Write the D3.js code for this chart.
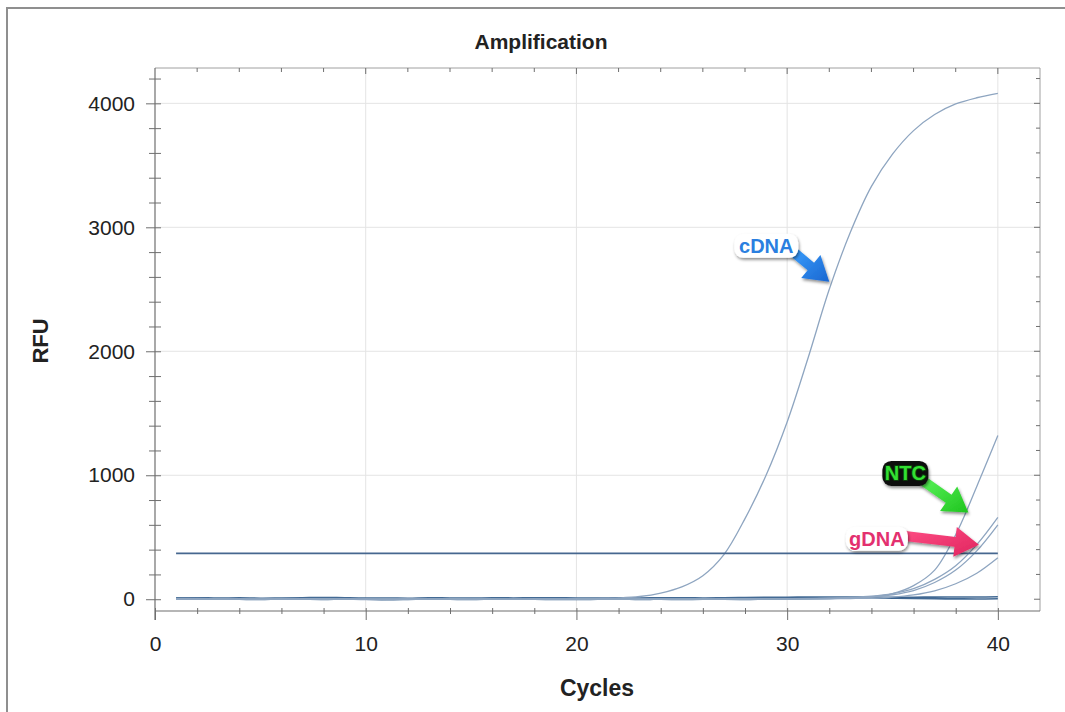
<!DOCTYPE html>
<html><head><meta charset="utf-8">
<script src="https://cdn.jsdelivr.net/npm/d3@7"></script>
<style>
html,body{margin:0;padding:0;background:#fff;}
svg{display:block;font-family:"Liberation Sans",Arial,Helvetica,sans-serif;}
</style></head>
<body>
<svg id="chart" width="1065" height="712"></svg>
<script>
// ---- data ----
const cycles = d3.range(1, 41);
const cDNA = [4,6,3,1,-2,2,5,3,1,-3,-2,0,2,3,1,0,-2,-1,0,2,5,10,22,50,100,190,360,650,1000,1430,1950,2500,2960,3330,3590,3780,3910,3995,4045,4080];
const NTC = [2,3,1,0,-1,2,3,2,0,-2,-1,0,1,2,1,0,-1,0,1,0,1,2,1,0,1,2,1,2,3,2,4,6,9,18,45,110,235,520,910,1320];
const gDNA1 = [1,2,0,-1,1,2,1,0,-1,0,1,2,1,0,-1,0,1,0,-1,0,1,0,1,2,1,0,1,2,3,4,6,9,14,24,45,85,160,270,440,660];
const gDNA2 = [0,1,2,1,0,-1,0,1,2,1,0,-1,0,1,0,1,0,1,2,1,0,1,0,1,0,1,2,1,2,3,4,6,10,18,36,70,135,235,390,600];
const gDNA3 = [3,1,0,2,1,0,-1,1,0,2,1,0,-1,0,1,0,1,2,0,1,0,1,0,-1,0,1,0,1,2,2,3,4,6,9,17,35,68,125,210,335];
const base1 = [8,6,2,0,-2,3,1,-1,2,0,-3,-1,2,0,-2,1,3,0,-1,-2,0,2,-1,0,-2,1,0,-1,2,4,6,8,10,12,9,6,4,3,2,4];
const base2 = [10,12,9,11,8,10,12,14,11,9,10,8,12,10,9,11,10,12,11,10,9,11,10,12,11,10,12,14,15,16,17,18,17,16,15,16,17,18,18,20];
const threshold = 370;
const xTicksMajor = [0, 10, 20, 30, 40];
const yTicksMajor = [0, 1000, 2000, 3000, 4000];
const curves = [
  {name: "cDNA", values: cDNA},
  {name: "NTC", values: NTC},
  {name: "gDNA1", values: gDNA1},
  {name: "gDNA2", values: gDNA2},
  {name: "gDNA3", values: gDNA3}
];
const baselines = [base1, base2];
const annotations = [
  {label: "cDNA", tipX: 32.0, tipY: 2560, tail: [-36, -30], box: [-63, -36], w: 64, h: 24, fill: "#ffffff", text: "#2a7fe0", halo: "#ffffff", arrowA: "#3aa0ff", arrowB: "#1a66d0"},
  {label: "NTC", tipX: 38.6, tipY: 700, tail: [-46, -32], box: [-63, -39], w: 46, h: 25, fill: "#111111", text: "#33e033", halo: "#0a3a0a", arrowA: "#5cf55c", arrowB: "#1fc41f"},
  {label: "gDNA", tipX: 39.1, tipY: 440, tail: [-76, -9], box: [-102, -6], w: 62, h: 24, fill: "#ffffff", text: "#e3306f", halo: "#ffffff", arrowA: "#ff4f86", arrowB: "#e0245e"}
];

// ---- layout ----
const svg = d3.select("#chart");
const L = 155, R = 1040, T = 68, B = 611;
const x = d3.scaleLinear().domain([0, 42]).range([L, R]);
const y = d3.scaleLinear().domain([-95, 4285]).range([B, T]);

// outer frame
svg.append("path").attr("d", `M7,712 L7,8 L1065,8`).attr("fill", "none")
  .attr("stroke", "#8f8f8f").attr("stroke-width", 2);

const defs = svg.append("defs");
const f = defs.append("filter").attr("id", "shadow").attr("x", "-30%").attr("y", "-30%").attr("width", "160%").attr("height", "160%");
f.append("feDropShadow").attr("dx", 1).attr("dy", 2).attr("stdDeviation", 1.5).attr("flood-color", "#000").attr("flood-opacity", 0.45);

// grid
const grid = svg.append("g");
grid.selectAll(".gx").data(xTicksMajor.filter(d => d > 0)).join("line")
  .attr("x1", d => x(d)).attr("x2", d => x(d)).attr("y1", T).attr("y2", B)
  .attr("stroke", "#e4e4e4").attr("stroke-width", 1);
grid.selectAll(".gy").data(yTicksMajor.filter(d => d > 0)).join("line")
  .attr("x1", L).attr("x2", R).attr("y1", d => y(d)).attr("y2", d => y(d))
  .attr("stroke", "#e4e4e4").attr("stroke-width", 1);

// frame top/right
svg.append("path").attr("d", `M${L},${T} L${R},${T} L${R},${B}`).attr("fill", "none").attr("stroke", "#a0a0a0").attr("stroke-width", 1);

const tickCol = "#6f6f6f";
// top & right ticks
svg.append("g").selectAll("line").data(d3.range(2, 41, 2)).join("line")
  .attr("x1", d => x(d)).attr("x2", d => x(d)).attr("y1", T).attr("y2", d => T + (d % 10 === 0 ? 6 : 4))
  .attr("stroke", tickCol);
svg.append("g").selectAll("line").data(d3.range(0, 4201, 200)).join("line")
  .attr("x1", R).attr("x2", d => R - (d % 1000 === 0 ? 6 : 4)).attr("y1", d => y(d)).attr("y2", d => y(d))
  .attr("stroke", tickCol);

// y axis (left, with labels) + crossing ticks
const yAxis = svg.append("g").attr("transform", `translate(${L},0)`)
  .call(d3.axisLeft(y).tickValues(d3.range(0, 4201, 200))
    .tickFormat(d => d % 1000 === 0 ? d : "").tickSize(6).tickPadding(14));
yAxis.select(".domain").remove();
yAxis.selectAll(".tick line").attr("stroke", tickCol).attr("x1", 6).attr("x2", d => d % 1000 === 0 ? -9 : -6);
yAxis.selectAll(".tick text").attr("font-size", 21).attr("fill", "#222");
svg.append("line").attr("x1", L).attr("x2", L).attr("y1", T).attr("y2", B + 9).attr("stroke", tickCol).attr("stroke-width", 1.2);

// x axis
const xAxis = svg.append("g").attr("transform", `translate(0,${B})`)
  .call(d3.axisBottom(x).tickValues(d3.range(0, 41, 2))
    .tickFormat(d => d % 10 === 0 ? d : "").tickSize(3).tickPadding(22));
xAxis.select(".domain").remove();
xAxis.selectAll(".tick line").attr("stroke", tickCol).attr("y1", -3).attr("y2", d => d % 10 === 0 ? 9 : 3);
xAxis.selectAll(".tick text").attr("font-size", 21).attr("fill", "#222");
svg.append("line").attr("x1", L).attr("x2", R).attr("y1", B).attr("y2", B).attr("stroke", tickCol).attr("stroke-width", 1.2);

// lines
const baseLine = d3.line().x((d, i) => x(cycles[i])).y(d => y(d)).curve(d3.curveMonotoneX);
const line = d3.line().x((d, i) => x(cycles[i])).y(d => y(d)).curve(d3.curveCatmullRom.alpha(0.5));
const plot = svg.append("g");
plot.selectAll(".base").data(baselines).join("path")
  .attr("d", baseLine).attr("fill", "none").attr("stroke", "#2f5a88").attr("stroke-width", 1.7).attr("opacity", 0.9);
plot.selectAll(".curve").data(curves).join("path")
  .attr("d", d => line(d.values)).attr("fill", "none").attr("stroke", "#8ea5c0").attr("stroke-width", 1.3);
plot.append("line").attr("x1", x(cycles[0])).attr("x2", x(cycles[cycles.length - 1]))
  .attr("y1", y(threshold)).attr("y2", y(threshold)).attr("stroke", "#46678f").attr("stroke-width", 1.8);

// annotations
function arrowPath(x0, y0, x1, y1, w, hl, hw) {
  const dx = x1 - x0, dy = y1 - y0, len = Math.hypot(dx, dy);
  const ux = dx / len, uy = dy / len, nx = -uy, ny = ux;
  const bx = x1 - ux * hl, by = y1 - uy * hl;
  const p = [[x0 + nx * w, y0 + ny * w], [bx + nx * w, by + ny * w], [bx + nx * hw, by + ny * hw], [x1, y1],
    [bx - nx * hw, by - ny * hw], [bx - nx * w, by - ny * w], [x0 - nx * w, y0 - ny * w]];
  return "M" + p.map(q => q.join(",")).join("L") + "Z";
}
annotations.forEach((a, i) => {
  const tx = x(a.tipX), ty = y(a.tipY);
  const g = defs.append("linearGradient").attr("id", "ag" + i).attr("x1", 0).attr("y1", 0).attr("x2", 1).attr("y2", 1);
  g.append("stop").attr("offset", "0%").attr("stop-color", a.arrowA);
  g.append("stop").attr("offset", "100%").attr("stop-color", a.arrowB);
  const ga = svg.append("g");
  ga.append("path").attr("d", arrowPath(tx + a.tail[0], ty + a.tail[1], tx, ty, 5, 24, 15))
    .attr("fill", `url(#ag${i})`).attr("filter", "url(#shadow)");
  const cx = tx + a.box[0], cy = ty + a.box[1];
  ga.append("rect").attr("x", cx - a.w / 2).attr("y", cy - a.h / 2).attr("width", a.w).attr("height", a.h)
    .attr("rx", 9).attr("fill", a.fill).attr("filter", "url(#shadow)");
  ga.append("text").attr("x", cx).attr("y", cy + 7).attr("text-anchor", "middle")
    .attr("font-size", 20).attr("font-weight", "bold").attr("fill", a.text)
    .attr("stroke", a.halo).attr("stroke-width", 2).attr("paint-order", "stroke").text(a.label);
});

// titles
svg.append("text").attr("x", 541).attr("y", 49).attr("text-anchor", "middle")
  .attr("font-size", 21).attr("font-weight", "bold").attr("fill", "#222").text("Amplification");
svg.append("text").attr("transform", "translate(48,341) rotate(-90)").attr("text-anchor", "middle")
  .attr("font-size", 22).attr("font-weight", "bold").attr("fill", "#222").text("RFU");
svg.append("text").attr("x", 597).attr("y", 696).attr("text-anchor", "middle")
  .attr("font-size", 23).attr("font-weight", "bold").attr("fill", "#222").text("Cycles");
</script>
</body></html>
